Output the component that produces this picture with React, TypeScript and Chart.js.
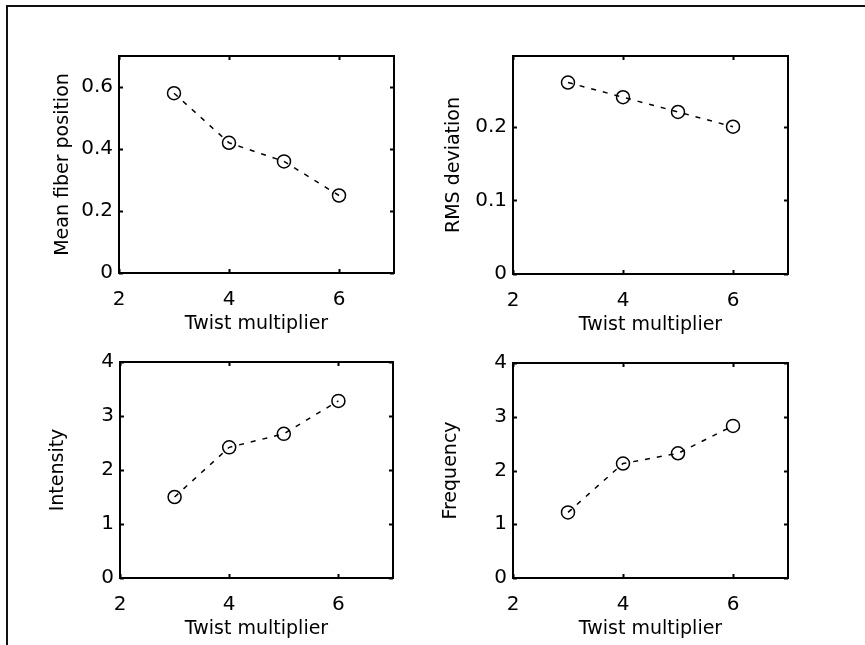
import { useEffect, useRef } from "react";
import { Chart, registerables } from "chart.js";

Chart.register(...registerables);

// ---- data ----
const twistMultiplier = [3, 4, 5, 6];
const meanFiberPosition = [0.58, 0.42, 0.36, 0.25];
const rmsDeviation = [0.26, 0.24, 0.22, 0.2];
const intensity = [1.5, 2.42, 2.67, 3.28];
const frequency = [1.22, 2.13, 2.32, 2.83];

const xTicks = [2, 4, 6];
const meanTicks = [0, 0.2, 0.4, 0.6];
const rmsTicks = [0, 0.1, 0.2];
const countTicks = [0, 1, 2, 3, 4];

const xLabel = "Twist multiplier";

// ---- layout ----
const FONT_FAMILY = "'DejaVu Sans', sans-serif";
const TICK_FONT = { family: FONT_FAMILY, size: 20 };
const TITLE_FONT = { family: FONT_FAMILY, size: 19 };
const Y_AXIS_W = 85;
const X_AXIS_H = 75;
const PAD = 20;

type PlotSpec = {
  key: string;
  label: string;
  values: number[];
  yTicks: number[];
  yMax: number;
  area: { l: number; t: number; r: number; b: number };
  yTitleX: number;
};

const plots: PlotSpec[] = [
  { key: "p1", label: "Mean fiber position", values: meanFiberPosition, yTicks: meanTicks, yMax: 0.7, area: { l: 119, t: 56, r: 394, b: 273 }, yTitleX: 62 },
  { key: "p2", label: "RMS deviation", values: rmsDeviation, yTicks: rmsTicks, yMax: 0.296, area: { l: 513, t: 56, r: 788, b: 274 }, yTitleX: 453 },
  { key: "p3", label: "Intensity", values: intensity, yTicks: countTicks, yMax: 4, area: { l: 120, t: 362, r: 393, b: 578 }, yTitleX: 57 },
  { key: "p4", label: "Frequency", values: frequency, yTicks: countTicks, yMax: 4, area: { l: 513, t: 363, r: 788, b: 578 }, yTitleX: 450 },
];

const boxPlugin = {
  id: "matlabBox",
  afterDraw(chart: any) {
    const { ctx, chartArea } = chart;
    const { left, top, right, bottom } = chartArea;
    const xs = chart.scales.x;
    const ys = chart.scales.y;
    const tl = 4;
    ctx.save();
    ctx.strokeStyle = "#000";
    ctx.lineWidth = 2;
    ctx.strokeRect(left, top, right - left, bottom - top);
    ctx.beginPath();
    xs.ticks.forEach((t: any) => {
      const px = Math.round(xs.getPixelForValue(t.value)) + 0.5;
      ctx.moveTo(px, bottom);
      ctx.lineTo(px, bottom - tl);
      ctx.moveTo(px, top);
      ctx.lineTo(px, top + tl);
    });
    ys.ticks.forEach((t: any) => {
      const py = Math.round(ys.getPixelForValue(t.value)) + 0.5;
      ctx.moveTo(left, py);
      ctx.lineTo(left + tl, py);
      ctx.moveTo(right, py);
      ctx.lineTo(right - tl, py);
    });
    ctx.stroke();
    ctx.restore();
  },
};

function fmt(v: number) {
  return String(Math.round(v * 1000) / 1000);
}

function Plot({ spec }: { spec: PlotSpec }) {
  const ref = useRef<HTMLCanvasElement | null>(null);
  const { l, t, r, b } = spec.area;
  const width = r - l + Y_AXIS_W + PAD;
  const height = b - t + PAD + X_AXIS_H;
  const canvasLeft = l - Y_AXIS_W;
  const canvasTop = t - PAD;

  useEffect(() => {
    if (!ref.current) return;
    const lineH = TITLE_FONT.size * 1.2;
    const yTitlePad = spec.yTitleX - canvasLeft - lineH / 2 + 1;
    const chart = new Chart(ref.current, {
      type: "line",
      data: {
        datasets: [
          {
            data: twistMultiplier.map((x, i) => ({ x, y: spec.values[i] })),
            borderColor: "#000",
            borderWidth: 1.5,
            borderDash: [5, 7],
            pointRadius: 6.5,
            pointBorderWidth: 1.5,
            pointBorderColor: "#000",
            pointBackgroundColor: "rgba(0,0,0,0)",
            fill: false,
            tension: 0,
          },
        ],
      },
      options: {
        animation: false,
        responsive: false,
        devicePixelRatio: 1,
        layout: { padding: { top: PAD, right: PAD, left: 0, bottom: 0 } },
        plugins: { legend: { display: false }, tooltip: { enabled: false } },
        scales: {
          x: {
            type: "linear",
            min: 2,
            max: 7,
            afterBuildTicks: (s: any) => {
              s.ticks = xTicks.map((v) => ({ value: v }));
            },
            afterFit: (s: any) => {
              s.height = X_AXIS_H;
            },
            grid: { display: false, drawTicks: false },
            border: { display: false },
            ticks: {
              font: TICK_FONT,
              color: "#000",
              padding: 15,
              autoSkip: false,
              maxRotation: 0,
              callback: (v: any) => fmt(Number(v)),
            },
            title: {
              display: true,
              text: xLabel,
              font: TITLE_FONT,
              color: "#000",
              padding: { top: 0, bottom: 13 },
            },
          },
          y: {
            type: "linear",
            min: 0,
            max: spec.yMax,
            afterBuildTicks: (s: any) => {
              s.ticks = spec.yTicks.map((v) => ({ value: v }));
            },
            afterFit: (s: any) => {
              s.width = Y_AXIS_W;
            },
            grid: { display: false, drawTicks: false },
            border: { display: false },
            ticks: {
              font: TICK_FONT,
              color: "#000",
              padding: 6,
              autoSkip: false,
              callback: (v: any) => fmt(Number(v)),
            },
            title: {
              display: true,
              text: spec.label,
              font: TITLE_FONT,
              color: "#000",
              padding: { top: yTitlePad, bottom: 0 },
            },
          },
        },
      },
      plugins: [boxPlugin],
    } as any);
    return () => chart.destroy();
  }, [spec]);

  return (
    <canvas
      ref={ref}
      width={width}
      height={height}
      style={{ position: "absolute", left: canvasLeft, top: canvasTop, width, height }}
    />
  );
}

export default function App() {
  return (
    <div>
      <div
        style={{
          position: "absolute",
          left: 6,
          top: 5,
          width: 859,
          height: 640,
          boxSizing: "border-box",
          borderTop: "2px solid #111",
          borderLeft: "2px solid #111",
        }}
      />
      {plots.map((p) => (
        <Plot key={p.key} spec={p} />
      ))}
    </div>
  );
}
